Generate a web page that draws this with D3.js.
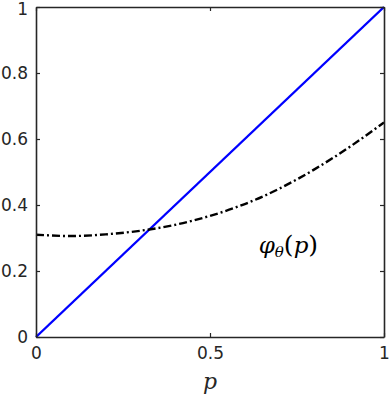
<!DOCTYPE html>
<html>
<head>
<meta charset="utf-8">
<script src="https://cdn.jsdelivr.net/npm/d3@7"></script>
<style>
  body { margin: 0; background: #fff; }
  .tick text { font-family: "DejaVu Sans", sans-serif; font-size: 17px; fill: #262626; }
</style>
</head>
<body>
<svg width="389" height="397"></svg>
<script>
// data
var pVals   = [0, 0.1, 0.2, 0.3, 0.4, 0.5, 0.6, 0.7, 0.8, 0.9, 1.0];
var phiVals = [0.310, 0.306, 0.311, 0.322, 0.340, 0.367, 0.403, 0.450, 0.508, 0.575, 0.650];
var diagP   = [0, 1];
var xTicks  = [0, 0.5, 1];
var yTicks  = [0, 0.2, 0.4, 0.6, 0.8, 1];

var svg = d3.select("svg");
var MARGIN = {top: 7, right: 5, bottom: 60, left: 36};
var WIDTH = +svg.attr("width") - MARGIN.left - MARGIN.right;
var HEIGHT = +svg.attr("height") - MARGIN.top - MARGIN.bottom;

var g = svg.append("g")
    .attr("transform", "translate(" + MARGIN.left + "," + MARGIN.top + ")");

var x = d3.scaleLinear().domain([0, 1]).range([0, WIDTH]);
var y = d3.scaleLinear().domain([0, 1]).range([HEIGHT, 0]);

var fmt = d => d3.format("")(d);

// curves
var line = d3.line()
    .curve(d3.curveNatural)
    .x(d => x(d.p))
    .y(d => y(d.v));

g.append("path")
    .datum(diagP.map(p => ({p: p, v: p})))
    .attr("fill", "none")
    .attr("stroke", "#0000ff")
    .attr("stroke-width", 2.4)
    .attr("d", line);

g.append("path")
    .datum(pVals.map((p, i) => ({p: p, v: phiVals[i]})))
    .attr("fill", "none")
    .attr("stroke", "#000")
    .attr("stroke-width", 2.4)
    .attr("stroke-dasharray", "8,3,2,3")
    .attr("d", line);

// axes, box with inward ticks
function styleAxis(sel) {
  sel.select(".domain").attr("stroke", "#262626").attr("stroke-width", 1.6);
  sel.selectAll(".tick line").attr("stroke", "#262626").attr("stroke-width", 1.2);
}

g.append("g")
    .attr("transform", "translate(0," + HEIGHT + ")")
    .call(d3.axisBottom(x).tickValues(xTicks).tickFormat(fmt).tickSizeInner(-4).tickSizeOuter(0).tickPadding(10))
    .call(styleAxis);

g.append("g")
    .call(d3.axisTop(x).tickValues(xTicks).tickFormat("").tickSizeInner(-4).tickSizeOuter(0))
    .call(styleAxis);

g.append("g")
    .call(d3.axisLeft(y).tickValues(yTicks).tickFormat(fmt).tickSizeInner(-4).tickSizeOuter(0).tickPadding(8))
    .call(styleAxis)
    .selectAll(".tick text")
    .filter(d => d === 1)
    .attr("dy", "0.42em");

g.append("g")
    .attr("transform", "translate(" + WIDTH + ",0)")
    .call(d3.axisRight(y).tickValues(yTicks).tickFormat("").tickSizeInner(-4).tickSizeOuter(0))
    .call(styleAxis);

// labels
svg.append("text")
    .attr("x", MARGIN.left + x(0.5))
    .attr("y", 389)
    .attr("text-anchor", "middle")
    .attr("font-family", "'DejaVu Serif', serif")
    .attr("font-style", "italic")
    .attr("font-size", 22)
    .attr("fill", "#262626")
    .text("p");

var lab = g.append("text")
    .attr("x", x(0.64))
    .attr("y", y(0.255))
    .attr("font-family", "'DejaVu Serif', serif")
    .attr("font-style", "italic")
    .attr("font-size", 23)
    .attr("fill", "#000");
lab.append("tspan").text("φ");
lab.append("tspan").attr("font-size", 15).attr("dy", 4).text("θ");
lab.append("tspan").attr("dy", -4).attr("font-style", "normal").attr("font-size", 25).text("(");
lab.append("tspan").text("p");
lab.append("tspan").attr("font-style", "normal").attr("font-size", 25).text(")");
</script>
</body>
</html>
